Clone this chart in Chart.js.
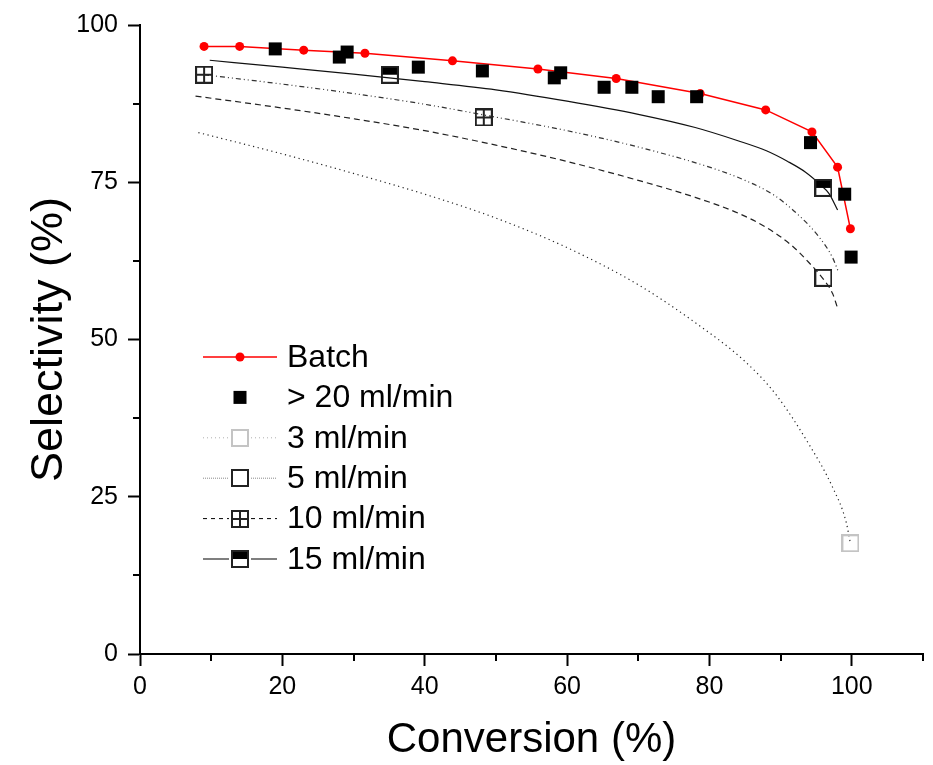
<!DOCTYPE html>
<html>
<head>
<meta charset="utf-8">
<script src="https://cdn.jsdelivr.net/npm/chart.js@4.4.1/dist/chart.umd.min.js"></script>
<style>
  html, body { margin: 0; padding: 0; background: #fff; }
  #wrap { width: 933px; height: 765px; }
</style>
</head>
<body>
<div id="wrap"><canvas id="chartCanvas" width="933" height="765"></canvas></div>
<script>
// --- data: conversion (%) vs selectivity (%) ---
const batchX = [9.0, 14.0, 23.0, 31.6, 43.9, 55.9, 66.9, 78.7, 87.9, 94.4, 98.0, 99.8];
const batchY = [96.6, 96.6, 96.0, 95.5, 94.3, 93.0, 91.5, 89.1, 86.5, 83.0, 77.4, 67.6];

const fastX = [19.0, 28.0, 29.1, 39.1, 48.1, 58.2, 59.1, 65.2, 69.1, 72.8, 78.2, 94.2, 99.0, 99.9];
const fastY = [96.2, 94.9, 95.7, 93.3, 92.7, 91.6, 92.4, 90.1, 90.1, 88.6, 88.6, 81.3, 73.1, 63.1];

// measured points per flow rate
const flow3X = [99.8];
const flow3Y = [17.6];
const flow5X = [96.0];
const flow5Y = [59.8];
const flow10X = [9.0, 48.3];
const flow10Y = [92.1, 85.3];
const flow15X = [35.1, 96.0];
const flow15Y = [92.1, 74.1];

// model curves per flow rate
const fit3X = [8.2, 20, 30, 40, 50, 60, 70, 77.6, 85, 89.3, 94.0, 97.3, 99.2, 99.8];
const fit3Y = [82.9, 79.5, 76.4, 73.1, 69.3, 64.6, 58.7, 53.0, 46.5, 41.3, 33.3, 26.5, 21.0, 17.6];
const fit5X = [7.8, 20, 30, 40, 50, 60, 70, 78, 84, 88, 91.5, 94, 96, 97.3, 98];
const fit5Y = [88.7, 86.8, 85.1, 83.2, 80.9, 78.3, 75.3, 72.6, 70.1, 67.8, 65.0, 62.2, 59.6, 57.3, 55.0];
const fit10X = [9.0, 20, 30, 40, 48.3, 60, 70, 80, 85, 89, 92.5, 95.4, 97.3, 98.1];
const fit10Y = [92.1, 90.6, 89.1, 87.4, 85.7, 83.2, 80.6, 77.4, 75.3, 73.0, 69.8, 66.3, 63.0, 60.8];
const fit15X = [9.8, 20, 30, 40, 50, 60, 70, 78, 84, 88, 91, 93.5, 95.5, 96.8, 98];
const fit15Y = [94.4, 93.3, 92.2, 91.0, 89.7, 87.9, 85.8, 83.7, 81.6, 80.0, 78.3, 76.6, 74.7, 73.2, 70.6];

// tick values
const xMajorTicks = [0, 20, 40, 60, 80, 100];
const xMinorTicks = [10, 30, 50, 70, 90, 110];
const yMajorTicks = [0, 25, 50, 75, 100];
const yMinorTicks = [12.5, 37.5, 62.5, 87.5];

const legendLabels = ["Batch", "> 20 ml/min", "3 ml/min", "5 ml/min", "10 ml/min", "15 ml/min"];

const pts = (xs, ys) => xs.map((x, i) => ({ x, y: ys[i] }));

// --- marker images ---
function makeMarker(draw) {
  const c = document.createElement("canvas");
  c.width = 18; c.height = 18;
  const g = c.getContext("2d");
  draw(g, 18);
  return c;
}
const greySquare = makeMarker((g, s) => {
  g.strokeStyle = "#c4c4c4"; g.lineWidth = 2; g.strokeRect(1, 1, s - 2, s - 2);
});
const openSquare = makeMarker((g, s) => {
  g.strokeStyle = "#222"; g.lineWidth = 2; g.strokeRect(1, 1, s - 2, s - 2);
});
const crossSquare = makeMarker((g, s) => {
  g.strokeStyle = "#222"; g.lineWidth = 2; g.strokeRect(1, 1, s - 2, s - 2);
  g.beginPath();
  g.moveTo(s / 2, 1); g.lineTo(s / 2, s - 1);
  g.moveTo(1, s / 2); g.lineTo(s - 1, s / 2);
  g.stroke();
});
const halfSquare = makeMarker((g, s) => {
  g.fillStyle = "#000"; g.fillRect(1, 1, s - 2, s / 2 - 1);
  g.strokeStyle = "#222"; g.lineWidth = 2; g.strokeRect(1, 1, s - 2, s - 2);
});

// --- minor ticks (the library only draws one tick length) ---
const minorTicks = {
  id: "minorTicks",
  afterDraw(chart) {
    const { ctx, scales: { x, y } } = chart;
    ctx.save();
    ctx.strokeStyle = "#000";
    ctx.lineWidth = 2;
    xMinorTicks.forEach(v => {
      const px = Math.round(x.getPixelForValue(v));
      ctx.beginPath(); ctx.moveTo(px, x.top); ctx.lineTo(px, x.top + 7); ctx.stroke();
    });
    yMinorTicks.forEach(v => {
      const py = Math.round(y.getPixelForValue(v));
      ctx.beginPath(); ctx.moveTo(y.right, py); ctx.lineTo(y.right - 7, py); ctx.stroke();
    });
    ctx.restore();
  }
};

// --- legend drawn inside the plot ---
const legendBox = {
  id: "legendBox",
  afterDraw(chart) {
    const ctx = chart.ctx;
    const x0 = 203, x1 = 277, mx = 240, tx = 287, top = 357, step = 40.4;
    ctx.save();
    ctx.font = "32px 'Liberation Sans', Arial, sans-serif";
    ctx.textBaseline = "middle";
    ctx.fillStyle = "#000";

    const seg = (y, color, width, dash, gap) => {
      ctx.strokeStyle = color; ctx.lineWidth = width; ctx.setLineDash(dash);
      ctx.beginPath();
      if (gap) {
        ctx.moveTo(x0, y); ctx.lineTo(mx - gap, y);
        ctx.moveTo(mx + gap, y); ctx.lineTo(x1, y);
      } else {
        ctx.moveTo(x0, y); ctx.lineTo(x1, y);
      }
      ctx.stroke();
      ctx.setLineDash([]);
    };
    const img = (y, m) => ctx.drawImage(m, mx - 9, Math.round(y) - 9);

    legendLabels.forEach((label, i) => {
      const y = top + i * step;
      if (i === 0) {
        seg(y, "#ff0000", 1.5, [], 0);
        ctx.fillStyle = "#ff0000";
        ctx.beginPath(); ctx.arc(mx, y, 4.5, 0, Math.PI * 2); ctx.fill();
      } else if (i === 1) {
        ctx.fillStyle = "#000";
        ctx.fillRect(mx - 6.5, y - 6.5, 13, 13);
      } else if (i === 2) {
        seg(y, "#b0b0b0", 1, [1, 3], 11); img(y, greySquare);
      } else if (i === 3) {
        seg(y, "#8a8a8a", 1, [1, 1], 11); img(y, openSquare);
      } else if (i === 4) {
        seg(y, "#000", 1, [4, 4], 11); img(y, crossSquare);
      } else {
        seg(y, "#555", 1.5, [], 11); img(y, halfSquare);
      }
      ctx.fillStyle = "#000";
      ctx.fillText(label, tx, y + 1);
    });
    ctx.restore();
  }
};

const curve = (data, dash, color) => ({
  data, showLine: true, pointRadius: 0, borderColor: color, borderWidth: 1.2,
  borderDash: dash, cubicInterpolationMode: "monotone", fill: false
});
const marks = (data, style) => ({
  data, showLine: false, pointStyle: style, pointRadius: 9
});

new Chart(document.getElementById("chartCanvas"), {
  type: "scatter",
  data: {
    datasets: [
      { data: pts(fastX, fastY), showLine: false, pointStyle: "rect", pointRadius: 9.2,
        backgroundColor: "#000", borderWidth: 0 },
      { data: pts(batchX, batchY), showLine: true, tension: 0, borderColor: "#ff0000",
        borderWidth: 1.5, pointStyle: "circle", pointRadius: 4.5,
        backgroundColor: "#ff0000", pointBorderWidth: 0 },
      marks(pts(flow3X, flow3Y), greySquare),
      marks(pts(flow5X, flow5Y), openSquare),
      marks(pts(flow10X, flow10Y), crossSquare),
      marks(pts(flow15X, flow15Y), halfSquare),
      curve(pts(fit15X, fit15Y), [], "#111"),
      curve(pts(fit10X, fit10Y), [5, 3, 1, 3, 1, 3], "#333"),
      curve(pts(fit5X, fit5Y), [6, 4], "#222"),
      curve(pts(fit3X, fit3Y), [1.2, 3.5], "#222")
    ]
  },
  options: {
    responsive: false,
    devicePixelRatio: 1,
    animation: false,
    layout: { padding: { top: 22, right: 9, left: 0, bottom: 0 } },
    plugins: { legend: { display: false }, tooltip: { enabled: false } },
    scales: {
      x: {
        type: "linear", min: 0, max: 110,
        afterFit: s => { s.height = 111; },
        afterBuildTicks: s => { s.ticks = xMajorTicks.map(v => ({ value: v })); },
        border: { display: true, color: "#000", width: 2 },
        grid: { drawOnChartArea: false, drawTicks: true, tickLength: 12, tickWidth: 2, tickColor: "#000" },
        ticks: { color: "#000", padding: 6, maxRotation: 0,
          font: { family: "'Liberation Sans', Arial, sans-serif", size: 25 } },
        title: { display: true, text: "Conversion (%)", color: "#000",
          font: { family: "'Liberation Sans', Arial, sans-serif", size: 42, lineHeight: 1 },
          padding: { top: 0, bottom: 4 } }
      },
      y: {
        type: "linear", min: 0, max: 100,
        afterFit: s => { s.width = 140; },
        afterBuildTicks: s => { s.ticks = yMajorTicks.map(v => ({ value: v })); },
        border: { display: true, color: "#000", width: 2 },
        grid: { drawOnChartArea: false, drawTicks: true, tickLength: 12, tickWidth: 2, tickColor: "#000" },
        ticks: { color: "#000", padding: 10,
          font: { family: "'Liberation Sans', Arial, sans-serif", size: 25 } },
        title: { display: true, text: "Selectivity (%)", color: "#000",
          font: { family: "'Liberation Sans', Arial, sans-serif", size: 45, lineHeight: 1 },
          padding: { top: 27, bottom: 0 } }
      }
    }
  },
  plugins: [minorTicks, legendBox]
});
</script>
</body>
</html>
